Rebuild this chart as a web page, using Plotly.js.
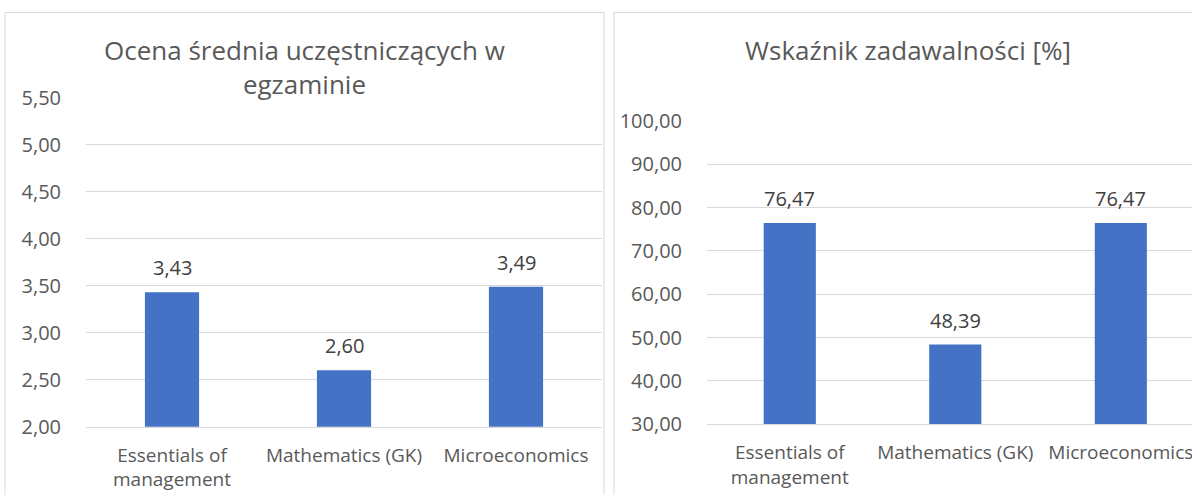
<!DOCTYPE html>
<html>
<head>
<meta charset="utf-8">
<script src="https://cdn.plot.ly/plotly-3.0.1.min.js"></script>
<style>
  html, body { margin: 0; padding: 0; background: #ffffff; overflow: hidden; }
  #chart { width: 1192px; height: 495px; }
</style>
</head>
<body>
<div id="chart"></div>
<script>
// ---- data ----
const categories = ['Essentials of management', 'Mathematics (GK)', 'Microeconomics'];
const tickLabels = ['Essentials of<br>management', 'Mathematics (GK)', 'Microeconomics'];
const avgGrade = [3.43, 2.60, 3.49];
const satisfaction = [76.47, 48.39, 76.47];
const gradeTicks = [2.0, 2.5, 3.0, 3.5, 4.0, 4.5, 5.0, 5.5];
const satTicks = [30, 40, 50, 60, 70, 80, 90, 100];
const leftTitle = 'Ocena średnia uczęstniczących w<br>egzaminie';
const rightTitle = 'Wskaźnik zadawalności [%]';

// ---- styling ----
const W = 1192, H = 495;
const BAR = '#4472C4';
const GRID = '#D9D9D9';
const TXT = '#595959';
const LBL = '#404040';
const FONT = 'Open Sans, Noto Sans, sans-serif';
const px = v => v / W;
const py = v => (H - v) / H;

const fmt = v => v.toFixed(2).replace('.', ',');

const traces = [
  {
    type: 'bar', x: categories, y: avgGrade, xaxis: 'x', yaxis: 'y',
    marker: { color: BAR }, width: 0.315, hoverinfo: 'none'
  },
  {
    type: 'bar', x: categories, y: satisfaction, xaxis: 'x2', yaxis: 'y2',
    marker: { color: BAR }, width: 0.315, hoverinfo: 'none'
  }
];

const annotations = [];
categories.forEach((c, i) => {
  annotations.push({ xref: 'x', yref: 'y', x: c, y: avgGrade[i], text: fmt(avgGrade[i]),
    showarrow: false, yanchor: 'middle', yshift: 24.5, font: { family: FONT, size: 20, color: LBL } });
  annotations.push({ xref: 'x2', yref: 'y2', x: c, y: satisfaction[i], text: fmt(satisfaction[i]),
    showarrow: false, yanchor: 'middle', yshift: 24.5, font: { family: FONT, size: 20, color: LBL } });
});
annotations.push({ xref: 'paper', yref: 'paper', x: px(304.5), y: py(30), xanchor: 'center', yanchor: 'top',
  text: leftTitle, showarrow: false, font: { family: FONT, size: 26, color: TXT } });
annotations.push({ xref: 'paper', yref: 'paper', x: px(907.5), y: py(30), xanchor: 'center', yanchor: 'top',
  text: rightTitle, showarrow: false, font: { family: FONT, size: 26, color: TXT } });

const xTickFont = { family: FONT, size: 19, color: TXT };
const yTickFont = { family: FONT, size: 20, color: TXT };

const xCommon = {
  type: 'category', tickvals: categories, ticktext: tickLabels,
  showgrid: false, zeroline: false, showline: true, linecolor: GRID, linewidth: 1,
  ticks: 'outside', ticklen: 11, tickcolor: 'rgba(0,0,0,0)', tickfont: xTickFont, fixedrange: true
};
const yCommon = {
  showgrid: true, gridcolor: GRID, gridwidth: 1, zeroline: false, showline: false,
  ticks: 'outside', ticklen: 20, tickcolor: 'rgba(0,0,0,0)', tickfont: yTickFont,
  tickformat: '.2f', fixedrange: true
};

const layout = {
  width: W, height: H,
  margin: { l: 0, r: 0, t: 0, b: 0 },
  paper_bgcolor: '#ffffff', plot_bgcolor: '#ffffff',
  separators: ',.',
  showlegend: false,
  font: { family: FONT, color: TXT },
  xaxis: Object.assign({}, xCommon, { domain: [px(86), px(602)], range: [-0.5, 2.5], anchor: 'y' }),
  yaxis: Object.assign({}, yCommon, { domain: [py(426.7), py(97.7)], range: [2, 5.5], tickvals: gradeTicks, anchor: 'x' }),
  xaxis2: Object.assign({}, xCommon, { domain: [px(707), 1], range: [-0.5, 2.43], anchor: 'y2' }),
  yaxis2: Object.assign({}, yCommon, { domain: [py(424.3), py(121)], range: [30, 100], tickvals: satTicks, anchor: 'x2' }),
  annotations: annotations,
  shapes: [
    { type: 'rect', xref: 'paper', yref: 'paper', x0: px(5), x1: px(604), y0: -0.1, y1: py(12.5),
      line: { color: GRID, width: 1 }, fillcolor: 'rgba(0,0,0,0)', layer: 'below' },
    { type: 'rect', xref: 'paper', yref: 'paper', x0: px(614), x1: px(1201), y0: -0.1, y1: py(12.5),
      line: { color: GRID, width: 1 }, fillcolor: 'rgba(0,0,0,0)', layer: 'below' }
  ]
};

Plotly.newPlot('chart', traces, layout, { displayModeBar: false, staticPlot: true });
</script>
</body>
</html>
